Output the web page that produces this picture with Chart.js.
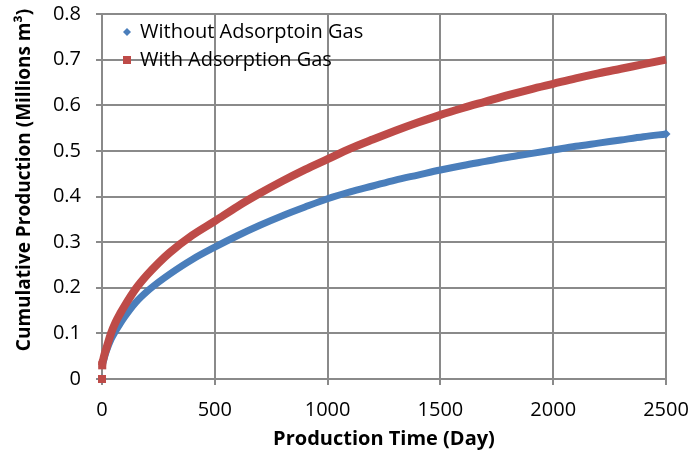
<!DOCTYPE html>
<html>
<head>
<meta charset="utf-8">
<script src="https://cdn.jsdelivr.net/npm/chart.js@4/dist/chart.umd.min.js"></script>
<style>
  html, body { margin: 0; padding: 0; background: #ffffff; }
  canvas { display: block; }
</style>
</head>
<body>
<canvas id="chart" width="690" height="459"></canvas>
<script>
// Production time in days
const days = [0, 1, 5, 10, 20, 40, 60, 80, 100, 150, 200, 250, 300, 400, 500,
  600, 700, 800, 900, 1000, 1100, 1200, 1300, 1400, 1500, 1600, 1700, 1800,
  1900, 2000, 2100, 2200, 2300, 2400, 2500];

// Cumulative production, millions m³
const withoutAdsorption = [0, 0.025, 0.037, 0.046, 0.062, 0.087, 0.105, 0.121, 0.136, 0.168, 0.192, 0.212, 0.230, 0.262, 0.289,
  0.314, 0.337, 0.358, 0.377, 0.395, 0.410, 0.423, 0.436, 0.447, 0.458, 0.468, 0.477, 0.486,
  0.494, 0.502, 0.510, 0.517, 0.524, 0.531, 0.537];

const withAdsorption = [0, 0.030, 0.042, 0.052, 0.068, 0.100, 0.124, 0.143, 0.160, 0.198, 0.228, 0.254, 0.277, 0.315, 0.346,
  0.378, 0.407, 0.434, 0.459, 0.482, 0.505, 0.525, 0.544, 0.562, 0.579, 0.594, 0.608, 0.622,
  0.635, 0.647, 0.659, 0.670, 0.680, 0.690, 0.700];

const xTickValues = [0, 500, 1000, 1500, 2000, 2500];
const yTickValues = [0, 0.1, 0.2, 0.3, 0.4, 0.5, 0.6, 0.7, 0.8];

const seriesNames = ['Without Adsorptoin Gas', 'With Adsorption Gas'];
const xTitle = 'Production Time (Day)';
const yTitle = 'Cumulative Production (Millions m³)';

const BLUE = '#4a7ebb';
const RED = '#be4b48';
const GRID = '#8a8a8a';
const FONT = '"Open Sans", "Noto Sans", sans-serif';

const toPoints = (vals) => days.map((d, i) => ({ x: d, y: vals[i] }));

// The first point (day 0) stands apart from the rest of the curve
const skipFirst = (color) => ({
  borderColor: (ctx) => ctx.p0DataIndex === 0 ? 'rgba(0,0,0,0)' : color
});

// Markers only where the band starts or ends
const markerAt = (indices, r) => (ctx) => indices.includes(ctx.dataIndex) ? r : 0;

// Keep the plot area exactly where the layout padding puts it
const noScalePadding = (scale) => {
  scale.paddingTop = 0;
  scale.paddingBottom = 0;
  scale.paddingLeft = 0;
  scale.paddingRight = 0;
};

// Legend inside the plot area and the rotated y-axis title
const annotations = {
  id: 'annotations',
  afterDraw(chart) {
    const ctx = chart.ctx;
    ctx.save();
    ctx.font = '20px ' + FONT;
    ctx.textBaseline = 'middle';
    ctx.textAlign = 'left';
    const lx = 127, ly = [32, 60];
    ctx.fillStyle = BLUE;
    ctx.beginPath();
    ctx.moveTo(lx, ly[0] - 4);
    ctx.lineTo(lx + 4, ly[0]);
    ctx.lineTo(lx, ly[0] + 4);
    ctx.lineTo(lx - 4, ly[0]);
    ctx.closePath();
    ctx.fill();
    ctx.fillStyle = RED;
    ctx.fillRect(lx - 4, ly[1] - 4, 8, 8);
    ctx.fillStyle = '#000';
    ctx.fillText(seriesNames[0], 140, ly[0]);
    ctx.fillText(seriesNames[1], 140, ly[1]);

    ctx.translate(25, 180);
    ctx.rotate(-Math.PI / 2);
    ctx.font = 'bold 19px ' + FONT;
    ctx.textAlign = 'center';
    ctx.fillText(yTitle, 0, 0);
    ctx.restore();
  }
};

new Chart(document.getElementById('chart'), {
  type: 'scatter',
  data: {
    datasets: [
      {
        label: seriesNames[0],
        data: toPoints(withoutAdsorption),
        showLine: true,
        clip: false,
        borderColor: BLUE,
        backgroundColor: BLUE,
        borderWidth: 7,
        pointStyle: 'rectRot',
        pointRadius: markerAt([0, days.length - 1], 4.5),
        pointBorderWidth: 0,
        cubicInterpolationMode: 'monotone',
        order: 2,
        segment: skipFirst(BLUE)
      },
      {
        label: seriesNames[1],
        data: toPoints(withAdsorption),
        showLine: true,
        clip: false,
        borderColor: RED,
        backgroundColor: RED,
        borderWidth: 8,
        pointStyle: 'rect',
        pointRadius: markerAt([0, 1], 5.7),
        pointBorderWidth: 0,
        cubicInterpolationMode: 'monotone',
        borderCapStyle: 'butt',
        order: 1,
        segment: skipFirst(RED)
      }
    ]
  },
  options: {
    responsive: false,
    animation: false,
    events: [],
    layout: { padding: { top: 14, right: 24, left: 0, bottom: 0 } },
    plugins: {
      legend: { display: false },
      tooltip: { enabled: false }
    },
    scales: {
      x: {
        type: 'linear',
        min: 0,
        max: 2500,
        afterBuildTicks: (scale) => { scale.ticks = xTickValues.map(v => ({ value: v })); },
        afterFit: (scale) => { scale.height = 80; noScalePadding(scale); },
        grid: { color: GRID, lineWidth: 2, tickLength: 6, drawTicks: true },
        border: { color: GRID, width: 2 },
        ticks: {
          color: '#000',
          font: { family: FONT, size: 20 },
          padding: 13,
          maxRotation: 0,
          callback: (v) => String(v)
        },
        title: {
          display: true,
          text: xTitle,
          color: '#000',
          font: { family: FONT, size: 20, weight: 'bold' },
          padding: { top: 0, bottom: 8 }
        }
      },
      y: {
        type: 'linear',
        min: 0,
        max: 0.8,
        afterBuildTicks: (scale) => { scale.ticks = yTickValues.map(v => ({ value: v })); },
        afterFit: (scale) => { scale.width = 102; noScalePadding(scale); },
        grid: { color: GRID, lineWidth: 2, tickLength: 6, drawTicks: true },
        border: { color: GRID, width: 2 },
        ticks: {
          color: '#000',
          font: { family: FONT, size: 20 },
          padding: 15,
          callback: (v) => v === 0 ? '0' : v.toFixed(1)
        }
      }
    }
  },
  plugins: [annotations]
});
</script>
</body>
</html>
